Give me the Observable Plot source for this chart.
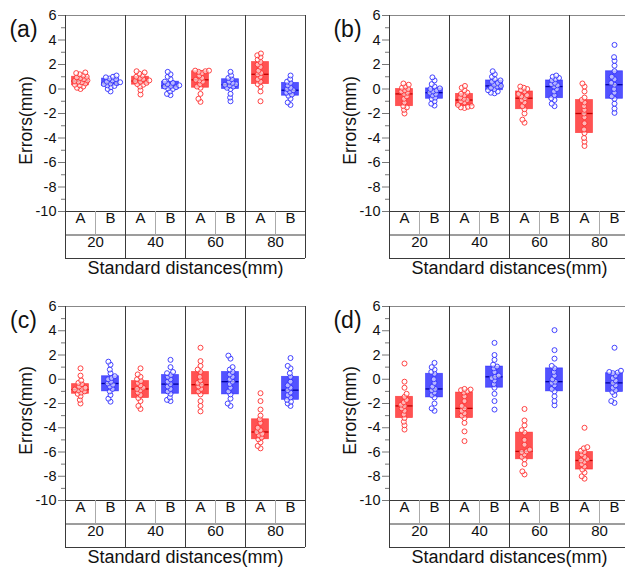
<!DOCTYPE html>
<html><head><meta charset="utf-8">
<script src="https://cdn.jsdelivr.net/npm/d3@7"></script>
<script src="https://cdn.jsdelivr.net/npm/@observablehq/plot@0.6"></script>
<style>
html,body{margin:0;padding:0;background:#fff;overflow:hidden;width:625px;height:571px;}
#root{position:relative;width:625px;height:571px;overflow:hidden;}
.panel{position:absolute;}
</style></head><body><div id="root"></div>
<script>
const distances = ["20","40","60","80"];
const methods = ["A","B"];
const panelLabels = ["(a)","(b)","(c)","(d)"];
const yTicks = [6,4,2,0,-2,-4,-6,-8,-10];
const yMinorTicks = [5,3,1,-1,-3,-5,-7,-9];
const yTitle = "Errors(mm)";
const xTitle = "Standard distances(mm)";

// Box statistics per column 20A,20B,40A,40B,60A,60B,80A,80B: [min, q1, median, q3, max]
const statsA = [[0.0,0.3,0.65,1.0,1.35],[-0.2,0.25,0.5,0.85,1.1],[-0.45,0.35,0.65,1.0,1.45],[-0.5,0.0,0.25,0.6,1.4],
  [-1.05,0.1,0.75,1.45,1.5],[-1.0,0.0,0.35,0.8,1.4],[-1.0,0.4,1.2,2.2,2.9],[-1.3,-0.55,-0.1,0.5,1.1]];
const statsB = [[-2.0,-1.4,-0.4,0.0,0.45],[-1.35,-0.8,-0.3,0.05,0.95],[-1.55,-1.4,-0.9,-0.4,0.25],[-0.35,-0.1,0.25,0.7,1.45],
  [-2.75,-1.65,-0.75,-0.2,0.2],[-1.4,-0.75,0.2,0.7,1.1],[-4.65,-3.6,-2.0,-0.9,0.45],[-1.95,-0.8,0.35,1.45,3.6]];
const statsC = [[-2.0,-1.2,-0.85,-0.4,0.9],[-1.85,-1.0,-0.35,0.25,1.45],[-2.45,-1.55,-0.8,-0.15,0.9],[-1.8,-1.2,-0.4,0.35,1.6],
  [-2.65,-1.25,-0.45,0.6,2.6],[-2.2,-1.25,-0.2,0.6,1.95],[-5.7,-4.95,-4.35,-3.3,-1.15],[-2.2,-1.7,-0.9,0.2,1.75]];
const statsD = [[-4.15,-3.2,-2.2,-1.45,1.3],[-2.6,-1.5,-0.8,0.45,1.35],[-5.1,-3.2,-2.4,-1.1,-0.8],[-2.5,-0.7,0.2,1.05,3.0],
  [-7.85,-6.6,-5.95,-4.4,-2.45],[-2.15,-1.0,-0.2,0.9,4.05],[-8.2,-7.45,-6.7,-6.0,-4.0],[-1.95,-1.05,-0.3,0.5,2.6]];

// Individual measurements per column
const pointsA = [
  [0.0,0.1,0.2,0.3,0.35,0.45,0.55,0.6,0.65,0.7,0.8,0.9,0.95,1.0,1.1,1.2,1.3,1.35],
  [-0.2,0.0,0.15,0.25,0.3,0.4,0.45,0.5,0.55,0.6,0.7,0.8,0.85,0.95,1.0,1.1],
  [-0.45,-0.1,0.2,0.35,0.4,0.5,0.6,0.65,0.7,0.8,0.9,1.0,1.1,1.25,1.35,1.45],
  [-0.5,-0.4,-0.2,0.0,0.05,0.15,0.2,0.25,0.3,0.4,0.5,0.6,0.8,1.0,1.2,1.4],
  [-1.05,-0.8,-0.4,0.1,0.2,0.4,0.6,0.7,0.75,0.9,1.1,1.3,1.4,1.45,1.5,1.5],
  [-1.0,-0.7,-0.4,0.0,0.1,0.2,0.3,0.35,0.4,0.5,0.6,0.8,0.9,1.1,1.4],
  [-1.0,-0.2,0.2,0.4,0.6,0.8,1.0,1.2,1.3,1.5,1.8,2.0,2.2,2.4,2.6,2.75,2.9],
  [-1.3,-1.1,-0.8,-0.55,-0.45,-0.3,-0.2,-0.1,0.0,0.1,0.3,0.5,0.6,0.8,1.1]];
const pointsB = [
  [-2.0,-1.7,-1.5,-1.4,-1.1,-0.8,-0.6,-0.4,-0.3,-0.2,-0.1,0.0,0.1,0.2,0.35,0.45],
  [-1.35,-1.2,-1.0,-0.8,-0.7,-0.5,-0.4,-0.3,-0.2,-0.1,0.0,0.05,0.2,0.4,0.7,0.95],
  [-1.55,-1.5,-1.45,-1.4,-1.3,-1.1,-1.0,-0.9,-0.8,-0.7,-0.5,-0.4,-0.3,-0.1,0.1,0.25],
  [-0.35,-0.3,-0.2,-0.1,0.0,0.1,0.2,0.25,0.35,0.5,0.6,0.7,0.8,1.0,1.2,1.45],
  [-2.75,-2.5,-2.0,-1.65,-1.4,-1.1,-0.9,-0.75,-0.6,-0.5,-0.4,-0.2,-0.1,0.0,0.1,0.2],
  [-1.4,-1.2,-0.9,-0.75,-0.5,-0.2,0.0,0.2,0.3,0.4,0.5,0.7,0.8,0.9,1.0,1.1],
  [-4.65,-4.3,-4.0,-3.6,-3.3,-2.8,-2.3,-2.0,-1.7,-1.4,-1.1,-0.9,-0.7,-0.2,0.2,0.45],
  [-1.95,-1.6,-1.2,-0.8,-0.6,-0.3,0.0,0.35,0.5,0.8,1.0,1.45,1.9,2.3,2.6,3.6]];
const pointsC = [
  [-2.0,-1.7,-1.4,-1.2,-1.1,-1.0,-0.9,-0.85,-0.8,-0.7,-0.6,-0.4,-0.3,-0.1,0.3,0.9],
  [-1.85,-1.6,-1.3,-1.0,-0.8,-0.6,-0.45,-0.35,-0.2,0.0,0.1,0.25,0.5,0.8,1.2,1.45],
  [-2.45,-2.2,-1.8,-1.55,-1.3,-1.1,-0.9,-0.8,-0.7,-0.5,-0.3,-0.15,0.0,0.2,0.4,0.9],
  [-1.8,-1.7,-1.5,-1.2,-1.0,-0.8,-0.6,-0.4,-0.2,0.0,0.2,0.35,0.5,0.6,1.0,1.6],
  [-2.65,-2.2,-1.8,-1.25,-1.0,-0.8,-0.6,-0.45,-0.3,-0.1,0.2,0.6,0.8,1.1,1.5,2.6],
  [-2.2,-2.0,-1.6,-1.25,-1.0,-0.7,-0.4,-0.2,0.0,0.2,0.4,0.6,0.8,1.0,1.7,1.95],
  [-5.7,-5.5,-5.2,-4.95,-4.8,-4.6,-4.5,-4.35,-4.2,-4.0,-3.6,-3.3,-3.0,-2.5,-1.8,-1.15],
  [-2.2,-2.0,-1.85,-1.7,-1.5,-1.3,-1.1,-0.9,-0.7,-0.5,-0.2,0.2,0.5,0.9,1.1,1.75]];
const pointsD = [
  [-4.15,-3.8,-3.5,-3.2,-2.9,-2.6,-2.4,-2.2,-2.1,-1.9,-1.7,-1.45,-1.2,-0.7,-0.2,1.3],
  [-2.6,-2.4,-2.0,-1.5,-1.3,-1.1,-0.9,-0.8,-0.6,-0.3,0.0,0.45,0.6,0.8,1.0,1.35],
  [-5.1,-4.3,-3.6,-3.2,-3.0,-2.8,-2.6,-2.4,-2.2,-1.8,-1.4,-1.1,-1.0,-0.9,-0.85,-0.8],
  [-2.5,-1.8,-1.2,-0.7,-0.4,-0.1,0.1,0.2,0.3,0.6,0.9,1.05,1.2,1.6,2.0,3.0],
  [-7.85,-7.6,-7.0,-6.6,-6.4,-6.2,-6.0,-5.95,-5.8,-5.4,-5.0,-4.4,-4.2,-3.8,-3.4,-2.45],
  [-2.15,-1.8,-1.4,-1.0,-0.8,-0.5,-0.3,-0.2,0.0,0.3,0.6,0.9,1.1,1.7,2.4,4.05],
  [-8.2,-8.0,-7.7,-7.45,-7.2,-7.0,-6.8,-6.7,-6.6,-6.4,-6.2,-6.0,-5.9,-5.7,-5.6,-4.0],
  [-1.95,-1.8,-1.3,-1.05,-0.9,-0.7,-0.5,-0.3,-0.1,0.1,0.3,0.5,0.55,0.6,0.7,2.6]];

const boxFill = {A: "#ff0000", B: "#0000ff"};
const lineColor = {A: "#ff0000", B: "#0000ff"};
const medianColor = {A: "#c00000", B: "#0000a0"};
const dotStroke = {A: "#ff3030", B: "#3030ff"};

const layout = [
  {left: 0, top: 0, frameW: 242, frameH: 196},
  {left: 323, top: 0, frameW: 243, frameH: 196},
  {left: -1, top: 291, frameW: 243, frameH: 194},
  {left: 323, top: 291, frameW: 243, frameH: 194}
];
const allStats = [statsA, statsB, statsC, statsD];
const allPoints = [pointsA, pointsB, pointsC, pointsD];

const ML = 64, MT = 15, MR = 6, MB = 74;
const frameStroke = "#3a3a3a";
const root = document.getElementById("root");

panelLabels.forEach((label, p) => {
  const {left, top, frameW, frameH} = layout[p];
  const keys = distances.flatMap(d => methods.map(m => d + m));
  const rows = keys.map((k, i) => ({
    k, dist: distances[Math.floor(i / 2)], method: methods[i % 2],
    lo: allStats[p][i][0], q1: allStats[p][i][1], med: allStats[p][i][2], q3: allStats[p][i][3], hi: allStats[p][i][4]
  }));
  const pts = keys.flatMap((k, i) => allPoints[p][i].map(v => ({k, method: methods[i % 2], v})));
  const colsA = rows.filter(r => r.method === "A");
  const colsB = rows.filter(r => r.method === "B");
  const lastCol = rows.slice(-1);
  const rowH = 23.5;

  const chart = Plot.plot({
    width: ML + frameW + MR,
    height: MT + frameH + MB,
    marginLeft: ML, marginRight: MR, marginTop: MT, marginBottom: MB,
    style: {fontFamily: "'Liberation Sans', Arial, sans-serif", fontSize: "14px", background: "transparent", overflow: "visible", color: "#111"},
    fx: {domain: keys, padding: 0, axis: null},
    x: {domain: [0, 1], axis: null},
    y: {domain: [-10, 6]},
    marks: [
      Plot.axisY({ticks: yMinorTicks, tickSize: 4, text: null, stroke: "#777", label: null}),
      Plot.axisY({ticks: yTicks, tickSize: 7, tickPadding: 2, tickFormat: d => String(d), fontSize: 14.5, stroke: "#777", fill: "#111", label: null}),
      Plot.ruleY([6], {stroke: "#888"}),
      Plot.ruleY([-10], {stroke: frameStroke}),
      Plot.ruleY([-10], {stroke: frameStroke, dy: rowH}),
      Plot.ruleY([-10], {stroke: frameStroke, dy: 2 * rowH}),
      Plot.ruleX(colsA, {fx: "k", x: () => 0, insetBottom: -2 * rowH, stroke: frameStroke}),
      Plot.ruleX(lastCol, {fx: "k", x: () => 1, insetBottom: -2 * rowH, stroke: frameStroke}),
      Plot.ruleX(colsB, {fx: "k", x: () => 0, insetTop: frameH, insetBottom: -rowH, stroke: "#aaa"}),
      Plot.ruleX(rows, {fx: "k", y1: "lo", y2: "q1", stroke: d => lineColor[d.method], strokeWidth: 2}),
      Plot.ruleX(rows, {fx: "k", y1: "q3", y2: "hi", stroke: d => lineColor[d.method], strokeWidth: 2}),
      Plot.barY(rows, {fx: "k", y1: "q1", y2: "q3", insetLeft: 6.5, insetRight: 6.5,
        fill: d => boxFill[d.method], fillOpacity: 0.68, stroke: d => boxFill[d.method], strokeOpacity: 0.5, strokeWidth: 0.8}),
      Plot.tickY(rows, {fx: "k", y: "med", insetLeft: 6.5, insetRight: 6.5, stroke: d => medianColor[d.method], strokeWidth: 1.3}),
      Plot.dot(pts, Plot.dodgeX({anchor: "middle", padding: 0, r: 1.85},
        {fx: "k", y: "v", r: 2.5, stroke: d => dotStroke[d.method], fill: "white", fillOpacity: 0.6, strokeWidth: 0.9})),
      Plot.text(rows, {fx: "k", text: "method", frameAnchor: "bottom", dy: rowH / 2, fontSize: 15}),
      Plot.text(colsA, {fx: "k", text: "dist", frameAnchor: "bottom-right", textAnchor: "middle", dy: rowH * 1.5, fontSize: 15}),
      Plot.text([{k: keys[3], t: xTitle}], {fx: "k", text: "t", frameAnchor: "bottom-right", textAnchor: "middle", dy: 2 * rowH + 15, fontSize: 18}),
      Plot.text([{k: keys[0], t: yTitle}], {fx: "k", text: "t", frameAnchor: "left", textAnchor: "middle", rotate: -90, dx: -39, dy: 7, fontSize: 17.5}),
      Plot.text([{k: keys[0], t: label}], {fx: "k", text: "t", frameAnchor: "top-left", textAnchor: "middle", dx: -42, dy: 5, fontSize: 23})
    ]
  });
  chart.classList.add("panel");
  chart.style.left = left + "px";
  chart.style.top = top + "px";
  root.appendChild(chart);
});
</script></body></html>
